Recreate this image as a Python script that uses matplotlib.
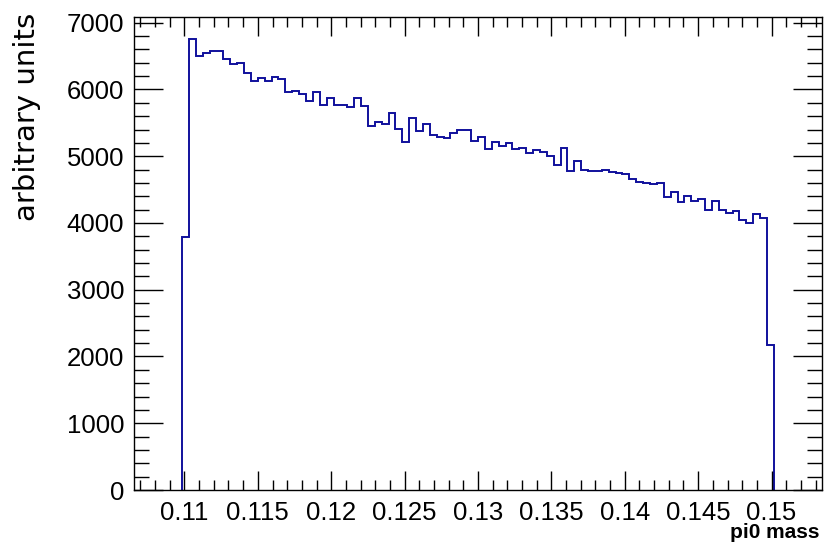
import numpy as np
import matplotlib
matplotlib.use('Agg')
from matplotlib import pyplot as plt
from matplotlib.ticker import MultipleLocator, FuncFormatter

# Histogram definition (ROOT-like: 128 bins on 0.10 - 0.16, only filled range kept)
bin_width = 0.06 / 128
first_bin = 21
counts = [
    3790, 6750, 6500, 6540, 6570, 6570, 6460, 6380, 6400, 6250,
    6130, 6170, 6130, 6190, 6150, 5960, 5970, 5930, 5830, 5960,
    5770, 5870, 5760, 5770, 5740, 5870, 5750, 5460, 5510, 5490,
    5640, 5410, 5220, 5580, 5385, 5490, 5315, 5295, 5270, 5345,
    5390, 5400, 5225, 5285, 5110, 5215, 5160, 5200, 5110, 5120,
    5055, 5090, 5060, 5010, 4870, 5120, 4780, 4935, 4795, 4775,
    4775, 4800, 4760, 4745, 4735, 4665, 4610, 4595, 4585, 4600,
    4385, 4460, 4315, 4400, 4335, 4365, 4190, 4330, 4200, 4150,
    4185, 4050, 4000, 4135, 4080, 2175,
]
x_label = 'pi0 mass'
y_label = 'arbitrary units'

edges = 0.1 + bin_width * (first_bin + np.arange(len(counts) + 1))

plt.rcParams['font.family'] = ['Liberation Sans', 'DejaVu Sans']

fig = plt.figure(figsize=(8.24, 5.45), dpi=100)
ax = fig.add_axes([134 / 824, 1 - 490 / 545, 688 / 824, (490 - 16.7) / 545])

ax.stairs(counts, edges, color='#10109c', linewidth=1.4)

ax.set_xlim(0.1 + 14 * bin_width, 0.1 + 114 * bin_width)
ax.set_ylim(0, 7090)

ax.xaxis.set_major_locator(MultipleLocator(0.005))
ax.xaxis.set_minor_locator(MultipleLocator(0.001))
ax.xaxis.set_major_formatter(FuncFormatter(lambda v, p: '%g' % round(v, 4)))
ax.yaxis.set_major_locator(MultipleLocator(1000))
ax.yaxis.set_minor_locator(MultipleLocator(200))

ax.tick_params(axis='both', which='both', direction='in', top=True, right=True,
               width=1, color='black')
ax.tick_params(axis='x', which='major', length=14, pad=8, labelsize=18.5)
ax.tick_params(axis='x', which='minor', length=7)
ax.tick_params(axis='y', which='major', length=21, pad=7, labelsize=18.5)
ax.tick_params(axis='y', which='minor', length=11)

for sp in ax.spines.values():
    sp.set_linewidth(1)

fig.text(27 / 824, 1 - 13 / 545, y_label, rotation=90, ha='center', va='top',
         fontsize=21, family='DejaVu Sans')
fig.text(819 / 824, 1 - 533 / 545, x_label, ha='right', va='center',
         fontsize=15, fontweight='bold')

fig.savefig('out.png', dpi=100)
